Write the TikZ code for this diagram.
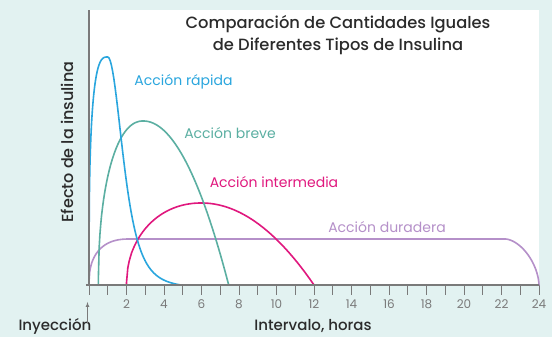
\documentclass[tikz,border=0pt]{standalone}
\usepackage{fontspec}
\setmainfont{Poppins}
\newfontfamily\medio{Poppins}[UprightFont={* Medium}]
\definecolor{fondo}{HTML}{E2F2F1}
\definecolor{eje}{HTML}{7A7A7A}
\definecolor{rapida}{HTML}{2AA6DE}
\definecolor{breve}{HTML}{5BAFA2}
\definecolor{intermedia}{HTML}{E0187E}
\definecolor{duradera}{HTML}{B590C9}
\definecolor{texto}{HTML}{2B2B2B}
\tikzset{curva/.style={line width=1.6pt, line cap=round, samples=60},
%labels of the four curves
etiqueta/.style={font=\fontsize{14}{16}\selectfont, inner sep=0pt},
rotulo/.style={texto, font=\medio\fontsize{15}{17}\selectfont, inner sep=0pt},
tick/.style={eje, line width=0.9pt}}

\begin{document}
\begin{tikzpicture}[x=1pt,y=1pt]

    % background and plot area
    \fill[fondo] (-89,-52) rectangle (463,285);
    \fill[white] (-1,0) rectangle (450,275);
    \useasboundingbox (-89,-52) rectangle (463,285);

    \coordinate (0) at (0,0);
    \coordinate (top) at (0,275);
    \coordinate (end) at (450,0);
    \coordinate (start) at (-3,0);

    \begin{scope}[x=18.75pt,y=1pt]
    \foreach \i in {0,...,24}
        \draw[tick] (\i,0) -- (\i,-10);
    \foreach \i in {2,4,...,24}
        \node[eje, font=\fontsize{12}{13}\selectfont] (t\i) at (\i,-19) {\i};

    \draw[curva,duradera] (0,0)
        -- plot[domain=0.001:2.199] (\x,{46*(1-((2.2-\x)/2.2)^2.5)^(0.4)})
        -- plot[domain=22.201:23.995] (\x,{46*(1-((\x-22.2)/1.8)^1.7)^(1/1.7)})
        -- (24,0);
    \draw[curva,intermedia] (2,0)
        -- plot[domain=2.001:5.999] (\x,{82*(1-((6-\x)/4)^2.1)^(1/2.1)})
        -- plot[domain=6:12] (\x,{82*(1-((\x-6)/6)^2)});
    \draw[curva,breve] (0.5,0)
        -- plot[domain=0.501:2.899] (\x,{164*(1-((2.9-\x)/2.4)^2.2)^(1/2.2)})
        -- plot[domain=2.9:7.45] (\x,{164*(1-((\x-2.9)/4.55)^2)});
    \draw[curva,rapida] (0,0)
        -- plot[domain=0.001:0.999] (\x,{228*(1-(1-\x)^3)^(1/3)})
        -- plot[domain=1:4.9] (\x,{228*(1/(1+((\x-1)/1.45)^2)^2-0.0148)/0.9852});
    \end{scope}

    % axes
    \draw[eje, line width=1.1pt] (start) -- (end);
    \draw[eje, line width=1.1pt] (0) -- (top);

    % labels
    \node[etiqueta, rapida] (rap) at (94.5,203) {Acción rápida};
    \node[etiqueta, breve] (brv) at (141,152) {Acción breve};
    \node[etiqueta, intermedia] (int) at (185,103) {Acción intermedia};
    \node[etiqueta, duradera] (dur) at (298,58) {Acción duradera};

    \node[texto, align=center, font=\medio\fontsize{16.3}{22}\selectfont] (titulo) at (249,250)
        {Comparación de Cantidades Iguales\\de Diferentes Tipos de Insulina};
    \node[rotulo, rotate=90, font=\medio\fontsize{16}{18}\selectfont] (efecto) at (-22,143) {Efecto de la insulina};
    \node[rotulo] (iny) at (-34,-41) {Inyección};
    \node[rotulo] (horas) at (224,-41) {Intervalo, horas};

    \coordinate (a0) at (-1.5,-38);
    \coordinate (a1) at (-1.5,-17);
    \draw[eje, line width=0.7pt, -latex] (a0) -- (a1);

  \end{tikzpicture}
\end{document}
